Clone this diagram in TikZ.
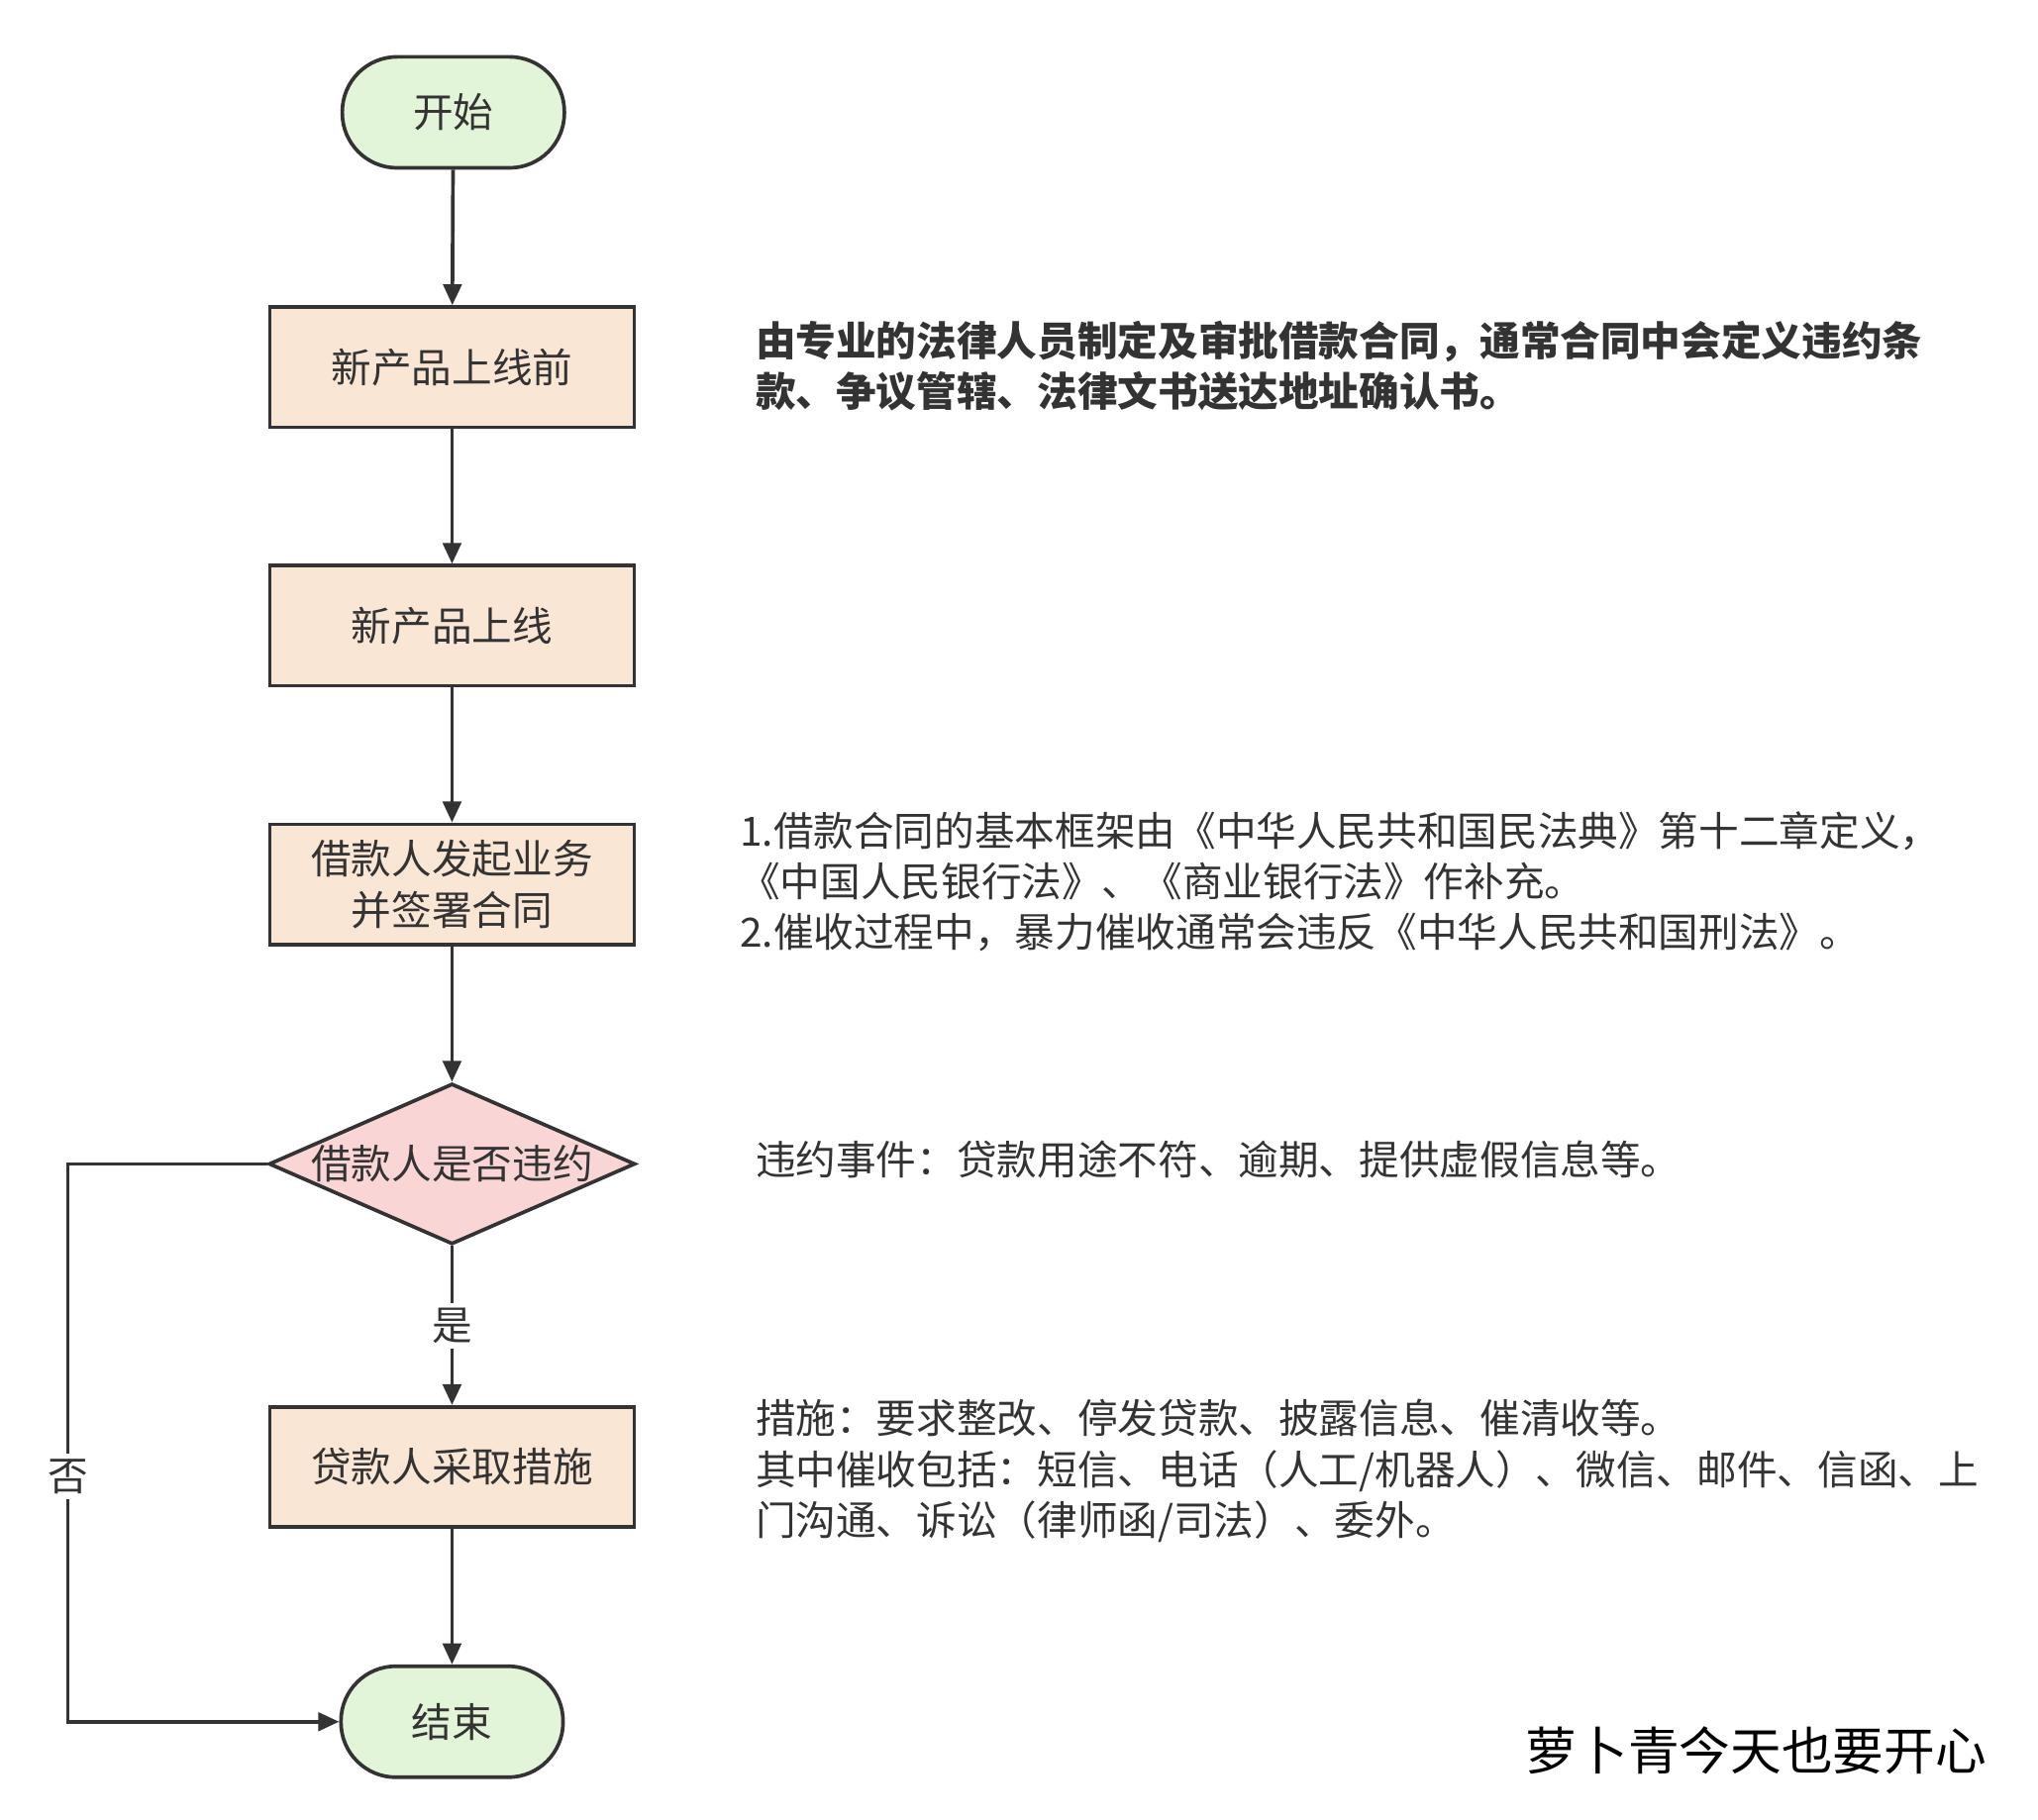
\documentclass[tikz,border=0pt]{standalone}
\usepackage{fontspec}
\setmainfont{Noto Sans CJK SC}
\usetikzlibrary{shapes.geometric,arrows.meta}
\definecolor{ln}{HTML}{333333}
\definecolor{gr}{HTML}{E3F5D8}
\definecolor{or}{HTML}{FAE6D5}
\definecolor{pk}{HTML}{F9D6D5}
\begin{document}
\begin{tikzpicture}[x=0.5pt,y=-0.5pt,
 every node/.style={font=\fontsize{15.4pt}{19.4pt}\selectfont, text=ln},
 base/.style={draw=ln,line width=1.4pt,align=center,inner sep=0},
 term/.style={base,fill=gr,rounded corners=21pt,minimum width=85pt,minimum height=42.5pt},
 box/.style={base,fill=or,minimum width=139.5pt,minimum height=46pt},
 dia/.style={base,fill=pk,diamond,aspect=2.28,minimum width=140pt,minimum height=61.5pt},
 arr/.style={draw=ln,line width=1.4pt,-{Triangle[length=8pt,width=7pt]}},
 note/.style={anchor=north west,align=left,inner sep=0}]
\useasboundingbox (0,0) rectangle (1560,1393);
\fill[white] (0,0) rectangle (1560,1393);
\node[term] (s) at (347,86) {开始};
\node[box] (b1) at (346,281) {新产品上线前};
\node[box] (b2) at (346,479) {新产品上线};
\node[box] (b3) at (346,677) {借款人发起业务\\并签署合同};
\node[dia] (d) at (346,891) {借款人是否违约};
\node[box] (b4) at (346,1123) {贷款人采取措施};
\node[term] (e) at (346,1318) {结束};
\draw[arr] (s) -- (b1);
\draw[arr] (b1) -- (b2);
\draw[arr] (b2) -- (b3);
\draw[arr] (b3) -- (d);
\draw[arr] (d) -- node[fill=white,inner sep=2pt] {是} (b4);
\draw[arr] (b4) -- (e);
\coordinate (c1) at (52,891);
\coordinate (c2) at (52,1318);
\draw[arr] (d.west) -- (c1) -- node[pos=0.56,fill=white,inner sep=2pt] {否} (c2) -- (e.west);
\node[note,font=\bfseries\fontsize{15.4pt}{19.4pt}\selectfont] (t1) at (578,245) {由专业的法律人员制定及审批借款合同，通常合同中会定义违约条\\款、争议管辖、法律文书送达地址确认书。};
\node[note] (t2) at (566,621) {1.借款合同的基本框架由《中华人民共和国民法典》第十二章定义，\\《中国人民银行法》、《商业银行法》作补充。\\2.催收过程中，暴力催收通常会违反《中华人民共和国刑法》。};
\node[note] (t3) at (578,873) {违约事件：贷款用途不符、逾期、提供虚假信息等。};
\node[note] (t4) at (578,1071) {措施：要求整改、停发贷款、披露信息、催清收等。\\其中催收包括：短信、电话（人工/机器人）、微信、邮件、信函、上\\门沟通、诉讼（律师函/司法）、委外。};
\node[anchor=east,inner sep=0,font=\fontsize{19.6pt}{24pt}\selectfont,text=black] (sig) at (1521,1340) {萝卜青今天也要开心};
\end{tikzpicture}
\end{document}
